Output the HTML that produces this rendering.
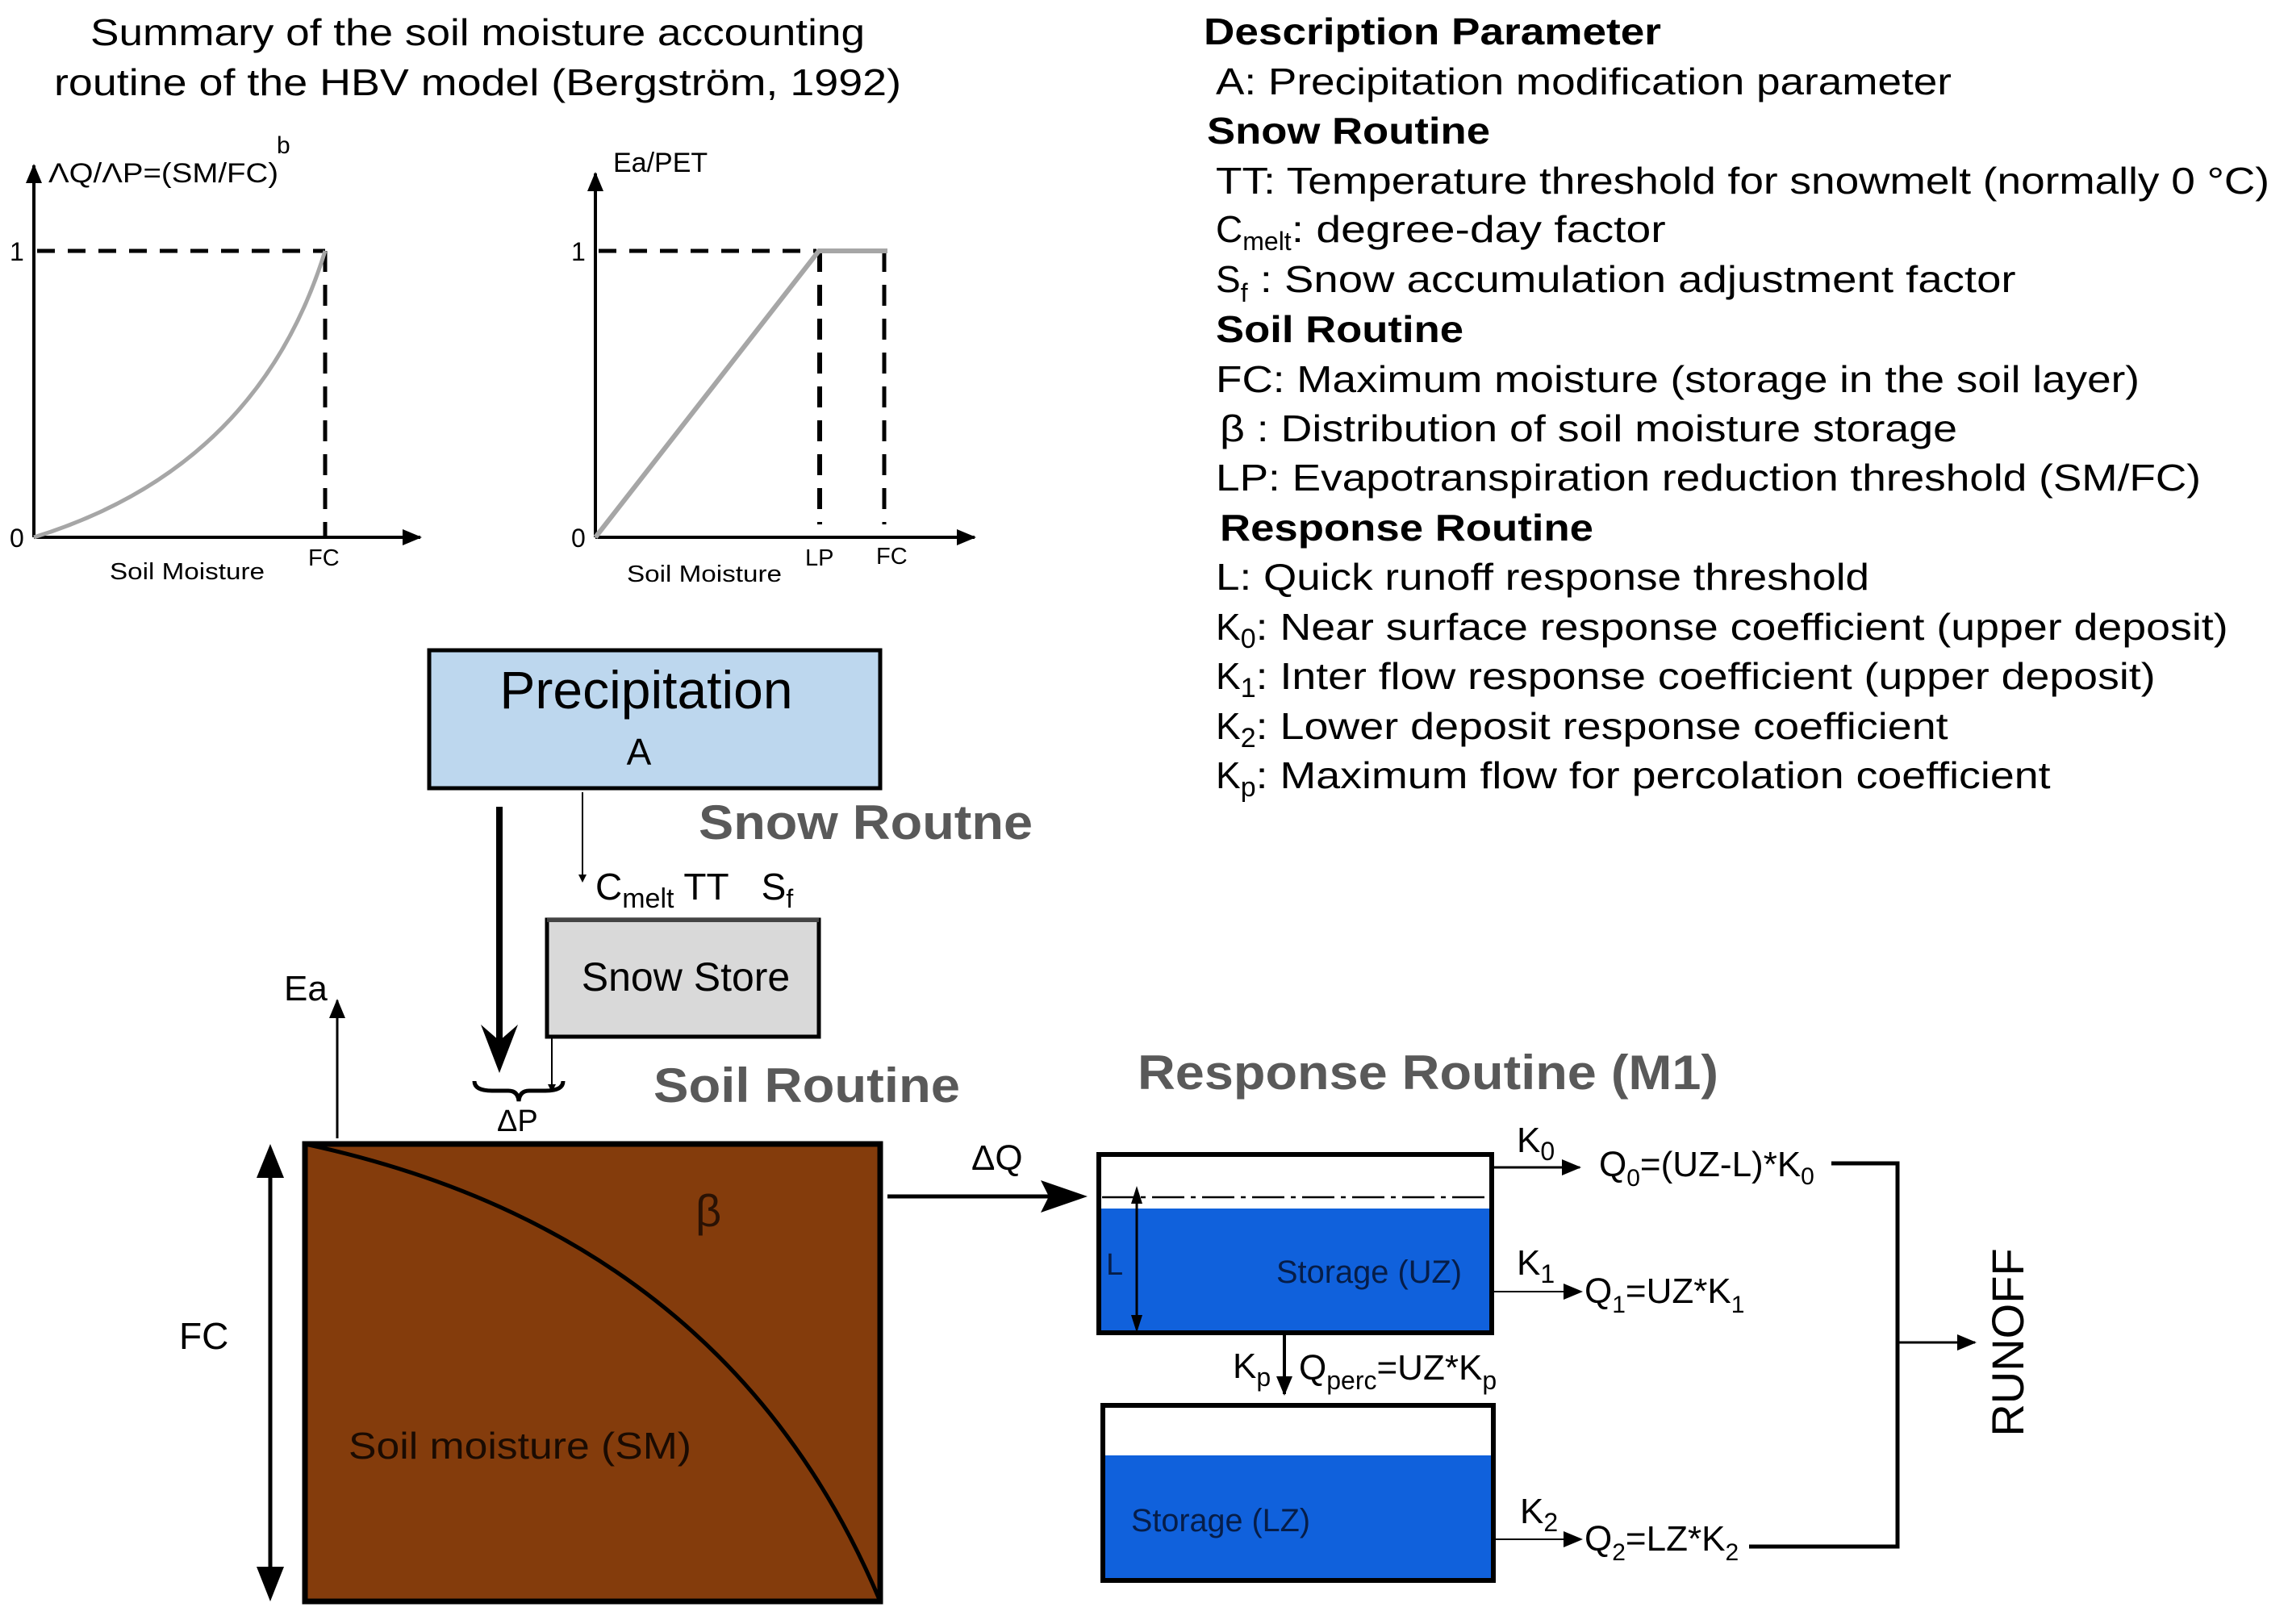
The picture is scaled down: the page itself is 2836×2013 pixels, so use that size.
<!DOCTYPE html>
<html><head><meta charset="utf-8"><style>
html,body{margin:0;padding:0;background:#fff}
svg{display:block}
text{font-family:"Liberation Sans",Arial,sans-serif}
</style></head><body>
<svg width="2836" height="2013" viewBox="0 0 2836 2013" xmlns="http://www.w3.org/2000/svg">
<defs>
<marker id="ah" markerWidth="10" markerHeight="10" refX="8" refY="5" orient="auto" markerUnits="userSpaceOnUse"><path d="M0,0 L10,5 L0,10 Z" fill="#000"/></marker>
<marker id="ahs" markerWidth="24" markerHeight="20" refX="22" refY="10" orient="auto" markerUnits="userSpaceOnUse"><path d="M0,0 L24,10 L0,20 Z" fill="#000"/></marker>
</defs>

<!-- Title -->
<text x="592" y="56" font-size="46" text-anchor="middle" textLength="960" lengthAdjust="spacingAndGlyphs">Summary of the soil moisture accounting</text>
<text x="592" y="118" font-size="46" text-anchor="middle" textLength="1050" lengthAdjust="spacingAndGlyphs">routine of the HBV model (Bergström, 1992)</text>

<!-- Graph 1 -->
<line x1="42" y1="666" x2="42" y2="205" stroke="#000" stroke-width="4" marker-end="url(#ahs)"/>
<line x1="42" y1="666" x2="521" y2="666" stroke="#000" stroke-width="4" marker-end="url(#ahs)"/>
<line x1="46" y1="311" x2="403" y2="311" stroke="#000" stroke-width="5" stroke-dasharray="22,16"/>
<line x1="403" y1="311" x2="403" y2="664" stroke="#000" stroke-width="5" stroke-dasharray="26,16"/>
<path d="M42,666 Q320,580 403,311" fill="none" stroke="#a6a6a6" stroke-width="5"/>
<text x="60" y="226" font-size="34" textLength="285" lengthAdjust="spacingAndGlyphs">ΛQ/ΛP=(SM/FC)</text>
<text x="343" y="190" font-size="30">b</text>
<text x="12" y="323" font-size="32">1</text>
<text x="12" y="678" font-size="32">0</text>
<text x="136" y="718" font-size="29" textLength="192" lengthAdjust="spacingAndGlyphs">Soil Moisture</text>
<text x="382" y="701" font-size="29">FC</text>

<!-- Graph 2 -->
<line x1="738" y1="666" x2="738" y2="215" stroke="#000" stroke-width="4" marker-end="url(#ahs)"/>
<line x1="738" y1="666" x2="1208" y2="666" stroke="#000" stroke-width="4" marker-end="url(#ahs)"/>
<line x1="742" y1="311" x2="1012" y2="311" stroke="#000" stroke-width="5" stroke-dasharray="22,16"/>
<line x1="1016" y1="311" x2="1016" y2="650" stroke="#000" stroke-width="6" stroke-dasharray="26,16"/>
<line x1="1096" y1="311" x2="1096" y2="650" stroke="#000" stroke-width="5" stroke-dasharray="26,16"/>
<path d="M738,666 L1015,311 L1100,311" fill="none" stroke="#a6a6a6" stroke-width="6"/>
<text x="760" y="213" font-size="34">Ea/PET</text>
<text x="708" y="323" font-size="32">1</text>
<text x="708" y="678" font-size="32">0</text>
<text x="777" y="721" font-size="29" textLength="192" lengthAdjust="spacingAndGlyphs">Soil Moisture</text>
<text x="998" y="701" font-size="29">LP</text>
<text x="1086" y="699" font-size="29">FC</text>

<!-- Right description -->
<g font-size="46">
<text x="1492" y="55" font-weight="bold" textLength="567" lengthAdjust="spacingAndGlyphs">Description Parameter</text>
<text x="1507" y="117" textLength="912" lengthAdjust="spacingAndGlyphs">A: Precipitation modification parameter</text>
<text x="1496" y="178" font-weight="bold" textLength="351" lengthAdjust="spacingAndGlyphs">Snow Routine</text>
<text x="1507" y="240" textLength="1306" lengthAdjust="spacingAndGlyphs">TT: Temperature threshold for snowmelt (normally 0 °C)</text>
<text x="1507" y="300">C<tspan font-size="32" dy="10">melt</tspan><tspan dy="-10" textLength="464" lengthAdjust="spacingAndGlyphs">: degree-day factor</tspan></text>
<text x="1507" y="362">S<tspan font-size="32" dy="12">f</tspan><tspan dy="-12" textLength="952" lengthAdjust="spacingAndGlyphs">  : Snow accumulation adjustment factor</tspan></text>
<text x="1507" y="424" font-weight="bold" textLength="307" lengthAdjust="spacingAndGlyphs">Soil Routine</text>
<text x="1507" y="486" textLength="1145" lengthAdjust="spacingAndGlyphs">FC: Maximum moisture (storage in the soil layer)</text>
<text x="1512" y="547" textLength="914" lengthAdjust="spacingAndGlyphs">β : Distribution of soil moisture storage</text>
<text x="1507" y="608" textLength="1221" lengthAdjust="spacingAndGlyphs">LP: Evapotranspiration reduction threshold (SM/FC)</text>
<text x="1512" y="670" font-weight="bold" textLength="463" lengthAdjust="spacingAndGlyphs">Response Routine</text>
<text x="1507" y="731" textLength="810" lengthAdjust="spacingAndGlyphs">L: Quick runoff response threshold</text>
<text x="1507" y="793">K<tspan font-size="34" dy="10">0</tspan><tspan dy="-10" textLength="1205" lengthAdjust="spacingAndGlyphs">: Near surface response coefficient (upper deposit)</tspan></text>
<text x="1507" y="854">K<tspan font-size="34" dy="10">1</tspan><tspan dy="-10" textLength="1115" lengthAdjust="spacingAndGlyphs">: Inter flow response coefficient (upper deposit)</tspan></text>
<text x="1507" y="916">K<tspan font-size="34" dy="10">2</tspan><tspan dy="-10" textLength="858" lengthAdjust="spacingAndGlyphs">: Lower deposit response coefficient</tspan></text>
<text x="1507" y="977">K<tspan font-size="34" dy="10">p</tspan><tspan dy="-10" textLength="985" lengthAdjust="spacingAndGlyphs">: Maximum flow for percolation coefficient</tspan></text>
</g>

<!-- Precipitation -->
<rect x="532" y="806" width="559" height="171" fill="#bdd7ee" stroke="#000" stroke-width="5"/>
<text x="801" y="878" font-size="66" text-anchor="middle">Precipitation</text>
<text x="792" y="948" font-size="46" text-anchor="middle">A</text>

<text x="866" y="1040" font-size="60" font-weight="bold" fill="#595959" textLength="414" lengthAdjust="spacingAndGlyphs">Snow Routne</text>

<line x1="619" y1="1000" x2="619" y2="1300" stroke="#000" stroke-width="8"/>
<path d="M596,1270 L619,1330 L642,1270 L619,1290 Z" fill="#000"/>
<line x1="722" y1="982" x2="722" y2="1092" stroke="#000" stroke-width="2" marker-end="url(#ah)"/>

<text x="738" y="1115" font-size="46">C<tspan font-size="34" dy="10">melt</tspan><tspan dy="-10"> TT</tspan><tspan dx="40">S</tspan><tspan font-size="32" dy="10">f</tspan></text>

<!-- Snow store -->
<rect x="678" y="1140" width="337" height="145" fill="#d9d9d9" stroke="#000" stroke-width="5"/>
<rect x="678" y="1138" width="337" height="5" fill="#444"/>
<text x="850" y="1228" font-size="50" text-anchor="middle">Snow Store</text>
<line x1="684" y1="1285" x2="684" y2="1352" stroke="#000" stroke-width="2" marker-end="url(#ah)"/>

<path d="M588,1340 Q588,1352 610,1352 L630,1352 Q642,1352 643,1365 Q644,1352 656,1352 L676,1352 Q698,1352 698,1340" fill="none" stroke="#000" stroke-width="5"/>
<text x="616" y="1402" font-size="38">ΔP</text>

<line x1="418" y1="1411" x2="418" y2="1240" stroke="#000" stroke-width="3" marker-end="url(#ahs)"/>
<text x="352" y="1240" font-size="44">Ea</text>

<text x="810" y="1366" font-size="60" font-weight="bold" fill="#595959" textLength="380" lengthAdjust="spacingAndGlyphs">Soil Routine</text>

<!-- Soil box -->
<rect x="378" y="1418" width="713" height="567" fill="#843c0c" stroke="#000" stroke-width="7"/>
<path d="M378,1418 Q900,1530 1091,1985" fill="none" stroke="#000" stroke-width="5"/>
<text x="862" y="1520" font-size="56" fill="#2a1204">β</text>
<text x="432" y="1808" font-size="46" fill="#1a0b02" textLength="425" lengthAdjust="spacingAndGlyphs">Soil moisture (SM)</text>

<line x1="335" y1="1440" x2="335" y2="1965" stroke="#000" stroke-width="5"/>
<path d="M318,1460 L335,1418 L352,1460 Z" fill="#000"/>
<path d="M318,1942 L335,1985 L352,1942 Z" fill="#000"/>
<text x="222" y="1672" font-size="46">FC</text>

<line x1="1100" y1="1483" x2="1310" y2="1483" stroke="#000" stroke-width="5"/>
<path d="M1290,1463 L1348,1483 L1290,1503 L1300,1483 Z" fill="#000"/>
<text x="1204" y="1450" font-size="44">ΔQ</text>

<text x="1410" y="1350" font-size="60" font-weight="bold" fill="#595959" textLength="720" lengthAdjust="spacingAndGlyphs">Response Routine (M1)</text>

<!-- UZ box -->
<rect x="1362" y="1431" width="487" height="221" fill="#fff" stroke="#000" stroke-width="6"/>
<rect x="1365" y="1498" width="481" height="151" fill="#1061dc"/>
<line x1="1366" y1="1484" x2="1845" y2="1484" stroke="#000" stroke-width="2.5" stroke-dasharray="40,8,6,8"/>
<line x1="1409" y1="1475" x2="1409" y2="1645" stroke="#000" stroke-width="3"/>
<path d="M1402,1492 L1409,1470 L1416,1492 Z" fill="#000"/>
<path d="M1402,1630 L1409,1652 L1416,1630 Z" fill="#000"/>
<text x="1371" y="1580" font-size="38" fill="#061d48">L</text>
<text x="1582" y="1590" font-size="40" fill="#061d48" textLength="230" lengthAdjust="spacingAndGlyphs">Storage (UZ)</text>

<line x1="1849" y1="1447" x2="1958" y2="1447" stroke="#000" stroke-width="3" marker-end="url(#ahs)"/>
<text x="1880" y="1428" font-size="44">K<tspan font-size="32" dy="10">0</tspan></text>
<text x="1982" y="1458" font-size="44">Q<tspan font-size="30" dy="12">0</tspan><tspan dy="-12">=(UZ-L)*K</tspan><tspan font-size="30" dy="10">0</tspan></text>
<line x1="1849" y1="1601" x2="1960" y2="1601" stroke="#000" stroke-width="2" marker-end="url(#ahs)"/>
<text x="1880" y="1580" font-size="44">K<tspan font-size="32" dy="10">1</tspan></text>
<text x="1964" y="1615" font-size="44">Q<tspan font-size="30" dy="12">1</tspan><tspan dy="-12">=UZ*K</tspan><tspan font-size="30" dy="12">1</tspan></text>

<line x1="1592" y1="1653" x2="1592" y2="1728" stroke="#000" stroke-width="4" marker-end="url(#ahs)"/>
<text x="1528" y="1708" font-size="44">K<tspan font-size="32" dy="10">p</tspan></text>
<text x="1610" y="1710" font-size="44">Q<tspan font-size="32" dy="12">perc</tspan><tspan dy="-12">=UZ*K</tspan><tspan font-size="32" dy="12">p</tspan></text>

<!-- LZ box -->
<rect x="1367" y="1742" width="484" height="217" fill="#fff" stroke="#000" stroke-width="6"/>
<rect x="1370" y="1804" width="478" height="152" fill="#1061dc"/>
<text x="1402" y="1898" font-size="40" fill="#061d48" textLength="222" lengthAdjust="spacingAndGlyphs">Storage (LZ)</text>
<line x1="1851" y1="1908" x2="1960" y2="1908" stroke="#000" stroke-width="2" marker-end="url(#ahs)"/>
<text x="1884" y="1888" font-size="44">K<tspan font-size="32" dy="10">2</tspan></text>
<text x="1964" y="1922" font-size="44">Q<tspan font-size="30" dy="12">2</tspan><tspan dy="-12">=LZ*K</tspan><tspan font-size="30" dy="12">2</tspan></text>

<path d="M2270,1442 L2352,1442 L2352,1917 L2168,1917" fill="none" stroke="#000" stroke-width="5"/>
<line x1="2352" y1="1664" x2="2448" y2="1664" stroke="#000" stroke-width="3" marker-end="url(#ahs)"/>
<text x="0" y="0" font-size="56" text-anchor="middle" transform="translate(2508,1664) rotate(-90)">RUNOFF</text>
</svg>
</body></html>
